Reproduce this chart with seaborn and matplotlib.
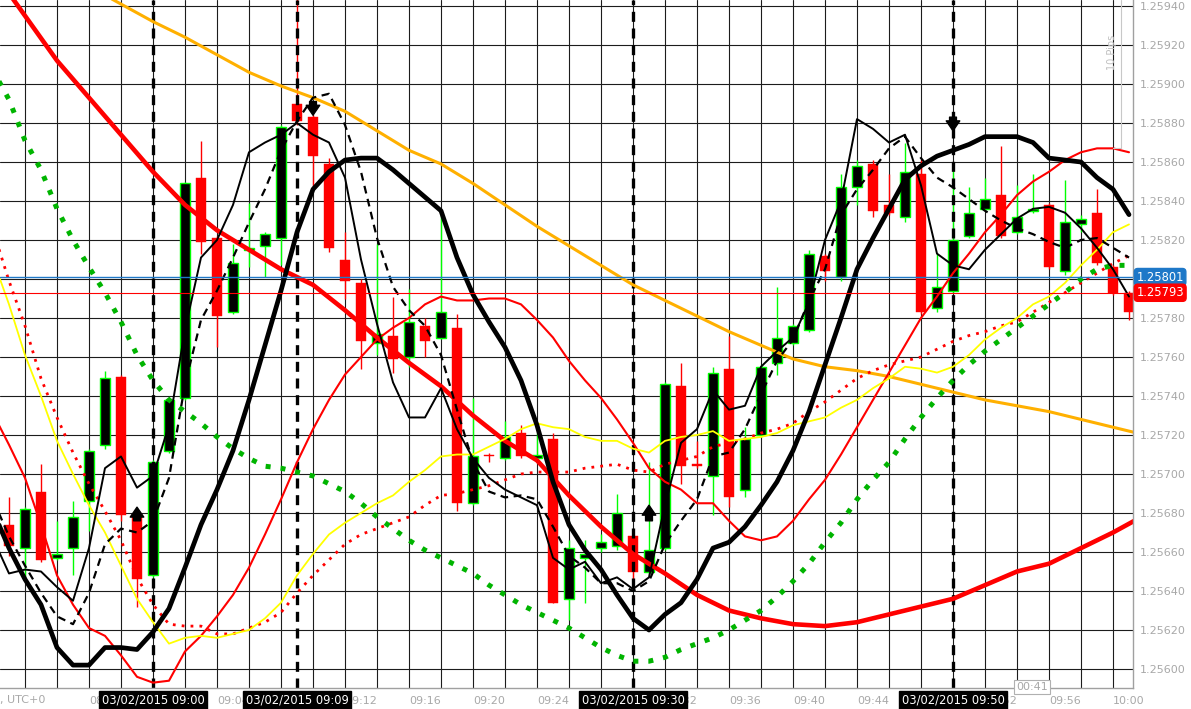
import numpy as np
import matplotlib
matplotlib.use("Agg")
import matplotlib.pyplot as plt
import matplotlib.transforms as mtransforms
from matplotlib.ticker import FuncFormatter
import seaborn as sns

# ---------------- data (minutes relative to 03/02/2015 09:00) ----------------
BAR_MIN = list(range(-9, 62))
OPEN = [1.25674, 1.25662, 1.25691, 1.25657, 1.25662, 1.25686, 1.25715, 1.25750, 1.25679, 1.25648,
        1.25712, 1.25739, 1.25852, 1.25821, 1.25783, 1.25815, 1.25817, 1.25821, 1.25890, 1.25883,
        1.25859, 1.25810, 1.25798, 1.25767, 1.25771, 1.25760, 1.25776, 1.25770, 1.25775, 1.25685,
        1.25710, 1.25708, 1.25721, 1.25708, 1.25718, 1.25636, 1.25657, 1.25662, 1.25663, 1.25668,
        1.25650, 1.25662, 1.25745, 1.25705, 1.25699, 1.25754, 1.25692, 1.25720, 1.25757, 1.25767,
        1.25774, 1.25812, 1.25801, 1.25847, 1.25859, 1.25838, 1.25832, 1.25854, 1.25785, 1.25794,
        1.25822, 1.25836, 1.25843, 1.25824, 1.25835, 1.25838, 1.25804, 1.25828, 1.25834, 1.25806,
        1.25793]
HIGH = [1.25688, 1.25683, 1.25705, 1.25676, 1.25686, 1.25713, 1.25753, 1.25751, 1.25681, 1.25707,
        1.25739, 1.25850, 1.25871, 1.25822, 1.25818, 1.25839, 1.25824, 1.25879, 1.25948, 1.25884,
        1.25862, 1.25824, 1.25800, 1.25818, 1.25791, 1.25795, 1.25780, 1.25833, 1.25782, 1.25739,
        1.25711, 1.25727, 1.25725, 1.25721, 1.25721, 1.25666, 1.25666, 1.25669, 1.25690, 1.25669,
        1.25706, 1.25747, 1.25757, 1.25717, 1.25755, 1.25771, 1.25724, 1.25756, 1.25796, 1.25777,
        1.25815, 1.25813, 1.25854, 1.25861, 1.25861, 1.25854, 1.25870, 1.25861, 1.25813, 1.25857,
        1.25847, 1.25852, 1.25868, 1.25848, 1.25854, 1.25839, 1.25851, 1.25833, 1.25846, 1.25807,
        1.25794]
LOW = [1.25658, 1.25646, 1.25655, 1.25656, 1.25648, 1.25671, 1.25713, 1.25676, 1.25632, 1.25647,
       1.25711, 1.25738, 1.25813, 1.25765, 1.25782, 1.25806, 1.25801, 1.25807, 1.25879, 1.25846,
       1.25814, 1.25790, 1.25754, 1.25761, 1.25752, 1.25755, 1.25760, 1.25769, 1.25681, 1.25684,
       1.25706, 1.25707, 1.25708, 1.25707, 1.25634, 1.25625, 1.25634, 1.25660, 1.25661, 1.25646,
       1.25648, 1.25661, 1.25695, 1.25703, 1.25679, 1.25683, 1.25688, 1.25719, 1.25751, 1.25766,
       1.25773, 1.25799, 1.25799, 1.25838, 1.25832, 1.25833, 1.25829, 1.25782, 1.25783, 1.25793,
       1.25821, 1.25835, 1.25821, 1.25823, 1.25834, 1.25805, 1.25802, 1.25824, 1.25807, 1.25792,
       1.25779]
CLOSE = [1.25663, 1.25682, 1.25656, 1.25659, 1.25678, 1.25712, 1.25749, 1.25679, 1.25646, 1.25706,
         1.25738, 1.25849, 1.25819, 1.25781, 1.25808, 1.25816, 1.25823, 1.25878, 1.25881, 1.25863,
         1.25816, 1.25799, 1.25768, 1.25772, 1.25759, 1.25778, 1.25768, 1.25783, 1.25685, 1.25709,
         1.25709, 1.25719, 1.25709, 1.25710, 1.25634, 1.25662, 1.25659, 1.25665, 1.25680, 1.25650,
         1.25661, 1.25746, 1.25704, 1.25704, 1.25752, 1.25688, 1.25718, 1.25755, 1.25770, 1.25776,
         1.25813, 1.25804, 1.25847, 1.25858, 1.25835, 1.25834, 1.25855, 1.25783, 1.25796, 1.25820,
         1.25834, 1.25841, 1.25822, 1.25832, 1.25836, 1.25806, 1.25829, 1.25831, 1.25808, 1.25793,
         1.25783]

LINE_MIN = list(range(-10, 62))
THIN_RED = [1.25731, 1.25715, 1.25698, 1.25674, 1.25648, 1.25633, 1.25621, 1.25617, 1.25607, 1.25596,
            1.25593, 1.25594, 1.25609, 1.25617, 1.25627, 1.25638, 1.25652, 1.25669, 1.25687, 1.25706,
            1.25723, 1.25738, 1.25751, 1.25760, 1.25769, 1.25775, 1.25780, 1.25787, 1.25791, 1.25789,
            1.25789, 1.25790, 1.25790, 1.25787, 1.25779, 1.25770, 1.25758, 1.25748, 1.25739, 1.25728,
            1.25716, 1.25703, 1.25696, 1.25692, 1.25685, 1.25685, 1.25676, 1.25668, 1.25666, 1.25668,
            1.25676, 1.25687, 1.25697, 1.25710, 1.25724, 1.25738, 1.25752, 1.25766, 1.25780, 1.25791,
            1.25803, 1.25813, 1.25824, 1.25833, 1.25843, 1.25850, 1.25855, 1.25861, 1.25865, 1.25867,
            1.25867, 1.25865]
RED_DOTTED = [1.25825, 1.25799, 1.25776, 1.25749, 1.25729, 1.25711, 1.25695, 1.25681, 1.25666, 1.25647,
              1.25633, 1.25623, 1.25622, 1.25622, 1.25618, 1.25618, 1.25621, 1.25624, 1.25629, 1.25639,
              1.25648, 1.25656, 1.25664, 1.25669, 1.25672, 1.25675, 1.25678, 1.25684, 1.25689, 1.25690,
              1.25692, 1.25694, 1.25697, 1.25700, 1.25701, 1.25701, 1.25701, 1.25703, 1.25704, 1.25705,
              1.25702, 1.25701, 1.25705, 1.25707, 1.25709, 1.25714, 1.25716, 1.25718, 1.25721, 1.25723,
              1.25726, 1.25732, 1.25737, 1.25743, 1.25749, 1.25753, 1.25756, 1.25758, 1.25760, 1.25764,
              1.25768, 1.25771, 1.25773, 1.25776, 1.25778, 1.25783, 1.25788, 1.25793, 1.25798, 1.25803,
              1.25808, 1.25812]
YELLOW = [1.25810, 1.25787, 1.25761, 1.25740, 1.25717, 1.25700, 1.25684, 1.25670, 1.25653, 1.25636,
          1.25624, 1.25613, 1.25616, 1.25617, 1.25616, 1.25618, 1.25620, 1.25626, 1.25634, 1.25648,
          1.25659, 1.25669, 1.25675, 1.25680, 1.25685, 1.25689, 1.25696, 1.25702, 1.25709, 1.25710,
          1.25710, 1.25714, 1.25718, 1.25723, 1.25726, 1.25724, 1.25723, 1.25719, 1.25717, 1.25717,
          1.25713, 1.25711, 1.25717, 1.25719, 1.25720, 1.25722, 1.25717, 1.25718, 1.25719, 1.25721,
          1.25725, 1.25727, 1.25729, 1.25734, 1.25738, 1.25744, 1.25749, 1.25755, 1.25754, 1.25752,
          1.25755, 1.25761, 1.25769, 1.25775, 1.25780, 1.25787, 1.25791, 1.25798, 1.25807, 1.25815,
          1.25824, 1.25828]
GREEN_DOTTED = [1.25907, 1.25892, 1.25871, 1.25856, 1.25836, 1.25820, 1.25806, 1.25793, 1.25778, 1.25761,
                1.25748, 1.25738, 1.25732, 1.25726, 1.25719, 1.25713, 1.25708, 1.25704, 1.25703, 1.25701,
                1.25699, 1.25695, 1.25691, 1.25685, 1.25678, 1.25672, 1.25666, 1.25661, 1.25657, 1.25653,
                1.25649, 1.25643, 1.25638, 1.25633, 1.25629, 1.25625, 1.25621, 1.25616, 1.25611, 1.25607,
                1.25604, 1.25604, 1.25606, 1.25610, 1.25613, 1.25616, 1.25620, 1.25625, 1.25630, 1.25637,
                1.25645, 1.25654, 1.25665, 1.25675, 1.25687, 1.25697, 1.25706, 1.25718, 1.25729, 1.25739,
                1.25748, 1.25756, 1.25763, 1.25769, 1.25775, 1.25781, 1.25787, 1.25793, 1.25800, 1.25805,
                1.25807, 1.25807]
THICK_BLACK = [1.25681, 1.25662, 1.25646, 1.25633, 1.25611, 1.25602, 1.25602, 1.25611, 1.25611, 1.25610,
               1.25619, 1.25631, 1.25652, 1.25674, 1.25692, 1.25712, 1.25738, 1.25766, 1.25794, 1.25824,
               1.25846, 1.25855, 1.25861, 1.25862, 1.25862, 1.25856, 1.25849, 1.25842, 1.25835, 1.25811,
               1.25792, 1.25778, 1.25765, 1.25748, 1.25725, 1.25696, 1.25674, 1.25661, 1.25651, 1.25638,
               1.25626, 1.25620, 1.25628, 1.25634, 1.25646, 1.25662, 1.25665, 1.25673, 1.25684, 1.25696,
               1.25712, 1.25732, 1.25756, 1.25780, 1.25805, 1.25821, 1.25836, 1.25851, 1.25858, 1.25863,
               1.25866, 1.25869, 1.25873, 1.25873, 1.25873, 1.25870, 1.25862, 1.25861, 1.25860, 1.25852,
               1.25846, 1.25833]
THIN_BLACK = [1.25667, 1.25649, 1.25651, 1.25650, 1.25642, 1.25635, 1.25662, 1.25703, 1.25709, 1.25693,
              1.25699, 1.25725, 1.25774, 1.25811, 1.25820, 1.25838, 1.25865, 1.25870, 1.25874, 1.25880,
              1.25874, 1.25870, 1.25852, 1.25810, 1.25777, 1.25747, 1.25729, 1.25729, 1.25744, 1.25723,
              1.25708, 1.25698, 1.25692, 1.25688, 1.25684, 1.25657, 1.25651, 1.25655, 1.25644, 1.25647,
              1.25641, 1.25647, 1.25684, 1.25716, 1.25723, 1.25743, 1.25733, 1.25735, 1.25755, 1.25763,
              1.25770, 1.25788, 1.25820, 1.25840, 1.25882, 1.25877, 1.25870, 1.25874, 1.25848, 1.25813,
              1.25807, 1.25805, 1.25815, 1.25823, 1.25831, 1.25836, 1.25837, 1.25834, 1.25826, 1.25816,
              1.25805, 1.25791]
DASHED_BLACK = [1.25687, 1.25668, 1.25653, 1.25639, 1.25627, 1.25623, 1.25639, 1.25664, 1.25672, 1.25670,
                1.25676, 1.25698, 1.25746, 1.25779, 1.25794, 1.25811, 1.25829, 1.25846, 1.25866, 1.25881,
                1.25893, 1.25895, 1.25879, 1.25855, 1.25821, 1.25796, 1.25784, 1.25776, 1.25761, 1.25733,
                1.25706, 1.25691, 1.25688, 1.25689, 1.25687, 1.25673, 1.25658, 1.25652, 1.25644, 1.25644,
                1.25640, 1.25645, 1.25664, 1.25676, 1.25687, 1.25709, 1.25711, 1.25723, 1.25741, 1.25758,
                1.25769, 1.25789, 1.25805, 1.25833, 1.25846, 1.25856, 1.25867, 1.25873, 1.25862, 1.25852,
                1.25847, 1.25841, 1.25835, 1.25830, 1.25826, 1.25823, 1.25819, 1.25816, 1.25820, 1.25821,
                1.25816, 1.25811]

ORANGE_MIN = list(range(-4, 63, 2))
ORANGE = [1.25950, 1.25941, 1.25932, 1.25924, 1.25915, 1.25906, 1.25899, 1.25893, 1.25886, 1.25876,
          1.25866, 1.25859, 1.25849, 1.25838, 1.25827, 1.25817, 1.25807, 1.25797, 1.25789, 1.25781,
          1.25773, 1.25766, 1.25759, 1.25755, 1.25753, 1.25750, 1.25746, 1.25742, 1.25738, 1.25735,
          1.25732, 1.25728, 1.25724, 1.25720]
THICK_RED_MIN = list(range(-10, 63, 2))
THICK_RED = [1.25958, 1.25935, 1.25912, 1.25893, 1.25874, 1.25855, 1.25838, 1.25825, 1.25815, 1.25805,
             1.25797, 1.25784, 1.25770, 1.25757, 1.25745, 1.25730, 1.25717, 1.25707, 1.25689, 1.25673,
             1.25659, 1.25649, 1.25638, 1.25630, 1.25626, 1.25623, 1.25622, 1.25624, 1.25628, 1.25632,
             1.25636, 1.25643, 1.25650, 1.25654, 1.25662, 1.25670, 1.25679]

EVENT_MIN = [0, 9, 30, 50]
EVENT_LABELS = ["03/02/2015 09:00", "03/02/2015 09:09", "03/02/2015 09:30", "03/02/2015 09:50"]
ARROW_UP_MIN = [-1, 31]
ARROW_UP_TIP = [1.25683, 1.25684]
ARROW_UP_TAIL = [1.25676, 1.25676]
ARROW_DN_MIN = [10, 50]
ARROW_DN_TIP = [1.25884, 1.25876]
ARROW_DN_TAIL = [1.25891, 1.25883]
ASK = 1.25801
BID = 1.25793
PRICE_TICKS = [1.25600, 1.25620, 1.25640, 1.25660, 1.25680, 1.25700, 1.25720, 1.25740, 1.25760,
               1.25780, 1.25800, 1.25820, 1.25840, 1.25860, 1.25880, 1.25900, 1.25920, 1.25940]
TIME_TICKS = list(range(-4, 61, 4))

# ---------------- figure ----------------
sns.set_style("white")
plt.rcParams["font.family"] = ["DejaVu Sans"]

W, H = 1191, 709
fig = plt.figure(figsize=(W / 100, H / 100), dpi=100)
fig.patch.set_facecolor("white")
ax = fig.add_axes([0, 21 / H, 1133 / W, 688 / H])
ax.set_facecolor("white")

XMIN, XMAX = -9.5625, 61.25
YMIN, YMAX = 1.2559026, 1.2594308

GRID = "#1c1c1c"
LABEL_GRAY = "#a8a8a8"

# grid
for gx in range(-8, 62, 2):
    ax.axvline(gx, color=GRID, lw=0.8, zorder=1)
for gy in PRICE_TICKS:
    ax.axhline(gy, color=GRID, lw=0.8, zorder=1)

# candles
x = np.array(BAR_MIN, dtype=float)
o = np.array(OPEN); h = np.array(HIGH); l = np.array(LOW); c = np.array(CLOSE)
bull = c >= o
wick_colors = np.where(bull, "#00ff00", "#ff0000")
ax.vlines(x, l, h, colors=wick_colors, lw=1.0, zorder=3)
bottom = np.minimum(o, c)
height = np.maximum(np.abs(c - o), 0.000006)
ax.bar(x[bull], height[bull], bottom=bottom[bull], width=0.6, color="black",
       edgecolor="#00ff00", linewidth=1.0, zorder=4)
ax.bar(x[~bull], height[~bull], bottom=bottom[~bull], width=0.62, color="#ff0000",
       edgecolor="#ff0000", linewidth=0.3, zorder=4)

# event vertical dashed lines
for em in EVENT_MIN:
    ax.axvline(em, color="black", lw=2.4, linestyle=(0, (3.0, 2.0)), zorder=5)

# indicator lines (seaborn)
common = dict(ax=ax, errorbar=None, sort=False)
sns.lineplot(x=ORANGE_MIN, y=ORANGE, color="#ffb000", linewidth=2.2, zorder=6, **common)
sns.lineplot(x=THICK_RED_MIN, y=THICK_RED, color="#ff0000", linewidth=3.3, zorder=6, **common)
sns.lineplot(x=LINE_MIN, y=THIN_RED, color="#ff0000", linewidth=1.5, zorder=6, **common)
sns.lineplot(x=LINE_MIN, y=RED_DOTTED, color="#ff0000", linewidth=2.0,
             linestyle=(0, (1, 2.2)), dash_capstyle="butt", zorder=6, **common)
sns.lineplot(x=LINE_MIN, y=YELLOW, color="#ffff00", linewidth=1.3, zorder=6, **common)
sns.lineplot(x=LINE_MIN, y=GREEN_DOTTED, color="#00b400", linewidth=3.6,
             linestyle=(0, (1, 2.0)), dash_capstyle="butt", zorder=6, **common)
sns.lineplot(x=LINE_MIN, y=THICK_BLACK, color="black", linewidth=3.4, zorder=7, **common)
sns.lineplot(x=LINE_MIN, y=THIN_BLACK, color="black", linewidth=1.4, zorder=7, **common)
sns.lineplot(x=LINE_MIN, y=DASHED_BLACK, color="black", linewidth=1.6,
             linestyle=(0, (3.5, 2.5)), zorder=7, **common)

# bid / ask lines
ax.axhline(ASK, color="#1e78c8", lw=1.0, zorder=8)
ax.axhline(BID, color="#ff0000", lw=0.8, zorder=8)

# arrows
astyle = "simple,head_length=0.55,head_width=0.75,tail_width=0.38"
for m, tip, tail in zip(ARROW_UP_MIN + ARROW_DN_MIN, ARROW_UP_TIP + ARROW_DN_TIP,
                        ARROW_UP_TAIL + ARROW_DN_TAIL):
    ax.annotate("", xy=(m, tip), xytext=(m, tail),
                arrowprops=dict(arrowstyle=astyle, color="black", shrinkA=0, shrinkB=0,
                                mutation_scale=13), zorder=9)

ax.set_xlim(XMIN, XMAX)
ax.set_ylim(YMIN, YMAX)

# axes styling
for side in ["left", "top"]:
    ax.spines[side].set_visible(False)
for side in ["right", "bottom"]:
    ax.spines[side].set_color("#a0a0a0")
    ax.spines[side].set_linewidth(1.0)
    ax.spines[side].set_zorder(10)

ax.yaxis.tick_right()
ax.set_yticks(PRICE_TICKS)
ax.yaxis.set_major_formatter(FuncFormatter(lambda v, p: f"{v:.5f}"))
ax.tick_params(axis="y", length=0, pad=5, labelsize=8, labelcolor=LABEL_GRAY)

def tfmt(v, p):
    t = 9 * 60 + int(round(v))
    return f"{t // 60:02d}:{t % 60:02d}"

ax.set_xticks(TIME_TICKS)
ax.xaxis.set_major_formatter(FuncFormatter(tfmt))
ax.tick_params(axis="x", length=3, width=0.8, color="#a0a0a0", pad=2.5,
               labelsize=8, labelcolor=LABEL_GRAY)
for lab in ax.get_xticklabels():
    lab.set_horizontalalignment("left")
ax.set_xlabel("")
ax.set_ylabel("")

# event labels on time axis
blend = mtransforms.blended_transform_factory(ax.transData, ax.transAxes)
for em, txt in zip(EVENT_MIN, EVENT_LABELS):
    ax.text(em, -0.0174, txt, transform=blend, ha="center", va="center", color="white",
            fontsize=8.3, zorder=20, clip_on=False,
            bbox=dict(boxstyle="square,pad=0.22", fc="black", ec="black"))

# price labels on the right
blend_y = mtransforms.blended_transform_factory(ax.transAxes, ax.transData)
ax.text(1.003, ASK, f"{ASK:.5f}", transform=blend_y, ha="left", va="center", color="white",
        fontsize=8.3, zorder=20, clip_on=False,
        bbox=dict(boxstyle="round,pad=0.18,rounding_size=0.3", fc="#1e78c8", ec="#1e78c8"))
ax.text(1.003, BID - 0.0000005, f"{BID:.5f}", transform=blend_y, ha="left", va="center",
        color="white", fontsize=8.3, zorder=20, clip_on=False,
        bbox=dict(boxstyle="round,pad=0.18,rounding_size=0.3", fc="#ff0000", ec="#ff0000"))

# countdown box
ax.text(1032 / 1133, 0.0015, "00:41", transform=ax.transAxes, ha="center", va="center",
        color="#a8a8a8", fontsize=8, zorder=20, clip_on=False,
        bbox=dict(boxstyle="square,pad=0.2", fc="white", ec="#b0b0b0", lw=0.8))

# 10 pips ruler
ax.plot([1121 / 1133, 1121 / 1133], [1 - 148 / 688, 1.0], transform=ax.transAxes,
        color="#c8c8c8", lw=0.8, zorder=9)
ax.plot([1113 / 1133, 1121 / 1133], [1 - 148 / 688, 1 - 148 / 688], transform=ax.transAxes,
        color="#c8c8c8", lw=0.8, zorder=9)
ax.text(1112 / 1133, 1 - 52 / 688, "10 Pips", transform=ax.transAxes, rotation=90,
        ha="center", va="center", fontsize=7, color="#c0c0c0", zorder=9)

fig.text(0.0, (H - 700) / H, ", UTC+0", ha="left", va="center", fontsize=8, color=LABEL_GRAY)

fig.savefig("out.png", dpi=100, facecolor="white")
